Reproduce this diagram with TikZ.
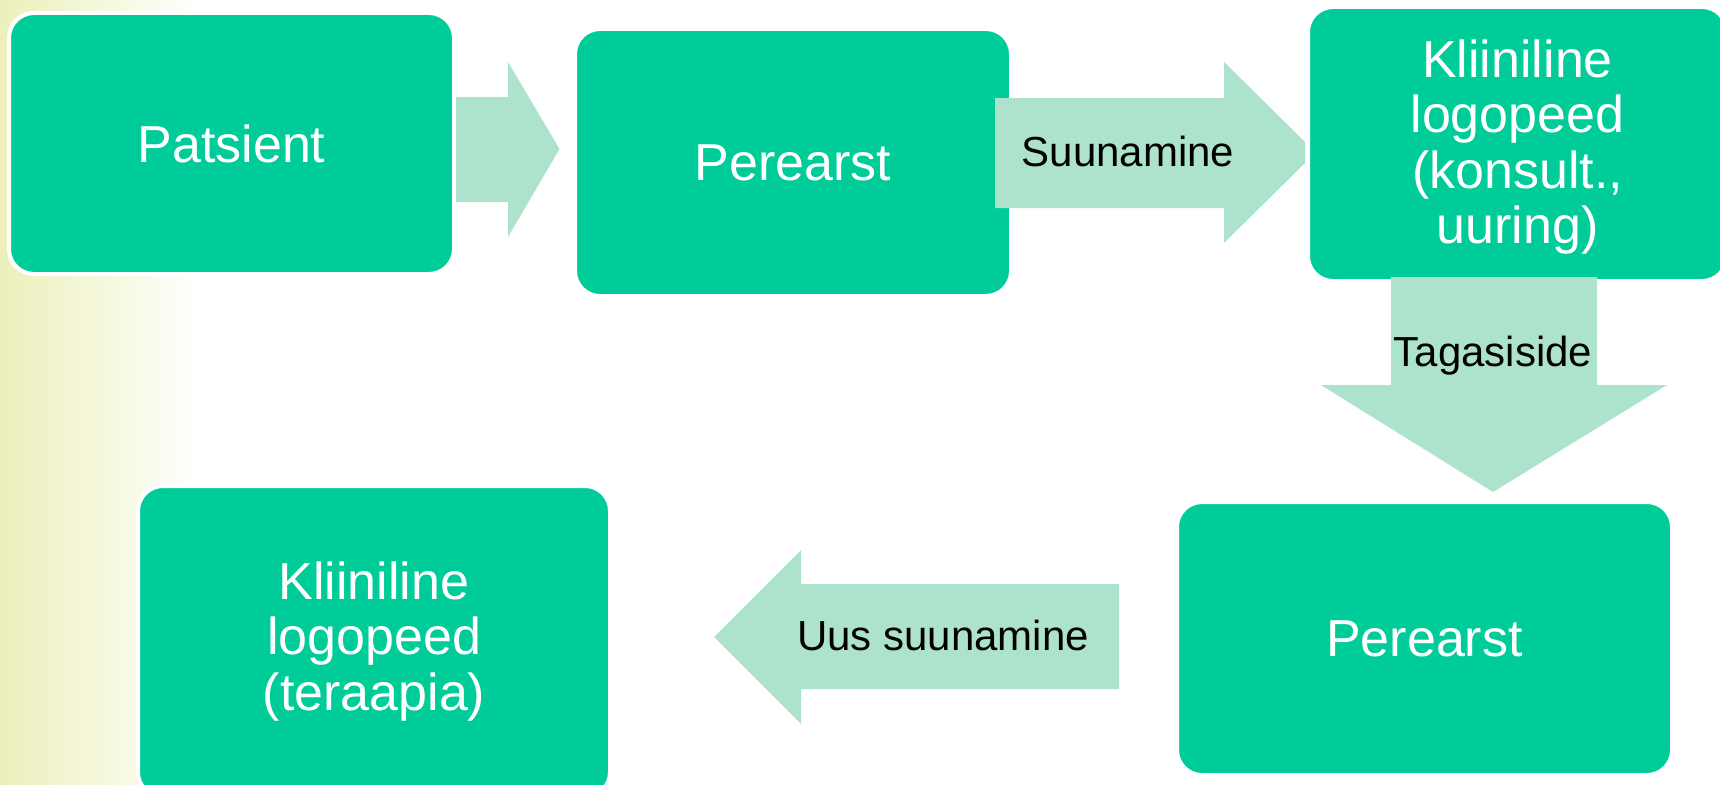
\documentclass[tikz,border=0pt]{standalone}
\usepackage{fontspec}
\setmainfont{Liberation Sans}
\definecolor{boxgreen}{RGB}{0,204,153}
\definecolor{arrowgreen}{RGB}{173,227,204}
\definecolor{bgyellow}{RGB}{236,240,186}
\begin{document}
\begin{tikzpicture}[x=1pt,y=-1pt,
  flowbox/.style={draw=white, line width=4pt, fill=boxgreen, rounded corners=25pt,
    inner sep=0pt},
  boxtext/.style={text=white, align=center, inner sep=0pt,
    font=\fontsize{52}{55.5}\selectfont},
  blockarrow/.style={fill=arrowgreen, draw=none},
  arrowlabel/.style={anchor=base, inner sep=0pt, text=black,
    font=\fontsize{42}{48}\selectfont}]
\useasboundingbox (0,0) rectangle (1720,784);
\fill[white] (0,0) rectangle (1720,784);
\shade[left color=bgyellow, right color=white] (0,0) rectangle (200,784);

% boxes
\node[flowbox, minimum width=445pt, minimum height=261pt] (patsient) at (231.5,143.5) {};
\node[flowbox, minimum width=436pt, minimum height=267pt] (perearst1) at (793,162.5) {};
\node[flowbox, minimum width=419pt, minimum height=274pt] (logo1) at (1517.5,144) {};
\node[flowbox, minimum width=495pt, minimum height=273pt] (perearst2) at (1424.5,638.5) {};
\node[flowbox, minimum width=472pt, minimum height=311pt] (logo2) at (374,641.5) {};

\node[boxtext] (patsientT) at (patsient.center) {Patsient};
\node[boxtext] (perearst1T) at (perearst1.center) {Perearst};
\node[boxtext] (logo1T) at ([yshift=-3pt]logo1.center) {Kliiniline\\logopeed\\(konsult.,\\uuring)};
\node[boxtext] (perearst2T) at (perearst2.center) {Perearst};
\node[boxtext] (logo2T) at (logo2.center) {Kliiniline\\logopeed\\(teraapia)};

% block arrows (drawn over the boxes)
\fill[blockarrow] (456,97) -- (508,97) -- (508,62) -- (559.5,149) -- (508,237) -- (508,202) -- (456,202) -- cycle;
\fill[blockarrow] (995,98) -- (1224,98) -- (1224,62) -- (1305,142) -- (1305,163) -- (1224,243) -- (1224,208) -- (995,208) -- cycle;
\fill[blockarrow] (1391,277) -- (1597,277) -- (1597,385) -- (1667,385) -- (1493,492) -- (1321,385) -- (1391,385) -- cycle;
\fill[blockarrow] (1119,584) -- (801,584) -- (801,550) -- (714,637) -- (801,724) -- (801,689) -- (1119,689) -- cycle;

% arrow labels
\node[arrowlabel] (lab1) at (1128,166) {Suunamine};
\node[arrowlabel] (lab2) at (1493,366) {Tagasiside};
\node[arrowlabel] (lab3) at (943,650) {Uus suunamine};
\end{tikzpicture}
\end{document}
